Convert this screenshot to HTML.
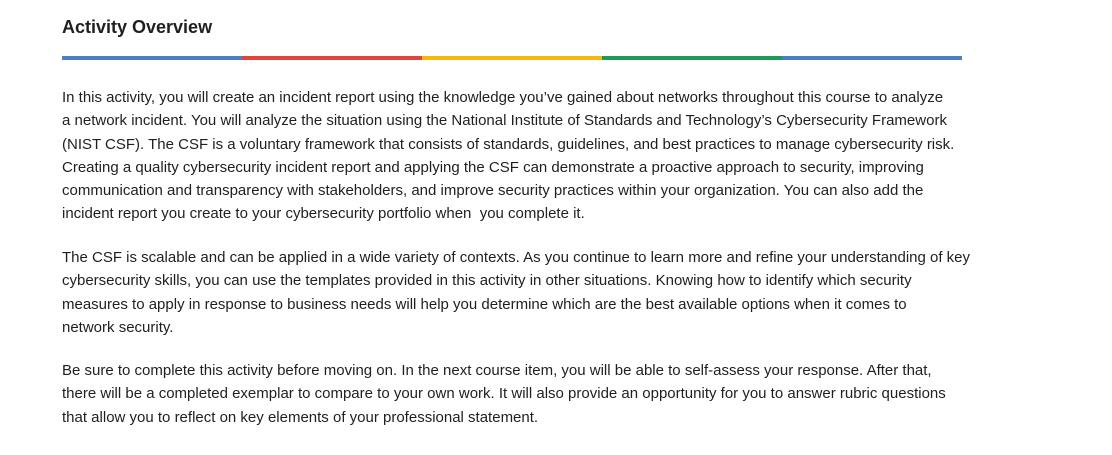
<!DOCTYPE html>
<html>
<head>
<meta charset="utf-8">
<style>
  html,body{margin:0;padding:0;background:#fff;}
  body{width:1112px;height:455px;overflow:hidden;position:relative;
    font-family:"Liberation Sans",sans-serif;color:#1f1f1f;}
  h1{position:absolute;left:62px;top:15px;margin:0;font-size:18px;font-weight:bold;line-height:24px;color:#1f1f1f;}
  .bar{position:absolute;left:62px;top:56px;width:900px;height:4px;display:flex;}
  .bar div{flex:1;height:4px;}
  .p{position:absolute;left:62px;margin:0;font-size:15px;line-height:23.3px;white-space:nowrap;}
</style>
</head>
<body>
<h1>Activity Overview</h1>
<div class="bar">
  <div style="background:#4a7fc8"></div>
  <div style="background:#e0443a"></div>
  <div style="background:#f5b80f"></div>
  <div style="background:#1e9a55"></div>
  <div style="background:#4a7fc8"></div>
</div>
<p class="p" style="top:86px">In this activity, you will create an incident report using the knowledge you’ve gained about networks throughout this course to analyze<br>a network incident. You will analyze the situation using the National Institute of Standards and Technology’s Cybersecurity Framework<br>(NIST CSF). The CSF is a voluntary framework that consists of standards, guidelines, and best practices to manage cybersecurity risk.<br>Creating a quality cybersecurity incident report and applying the CSF can demonstrate a proactive approach to security, improving<br>communication and transparency with stakeholders, and improve security practices within your organization. You can also add the<br>incident report you create to your cybersecurity portfolio when&nbsp; you complete it.</p>
<p class="p" style="top:246px">The CSF is scalable and can be applied in a wide variety of contexts. As you continue to learn more and refine your understanding of key<br>cybersecurity skills, you can use the templates provided in this activity in other situations. Knowing how to identify which security<br>measures to apply in response to business needs will help you determine which are the best available options when it comes to<br>network security.</p>
<p class="p" style="top:359px">Be sure to complete this activity before moving on. In the next course item, you will be able to self-assess your response. After that,<br>there will be a completed exemplar to compare to your own work. It will also provide an opportunity for you to answer rubric questions<br>that allow you to reflect on key elements of your professional statement.</p>
</body>
</html>
